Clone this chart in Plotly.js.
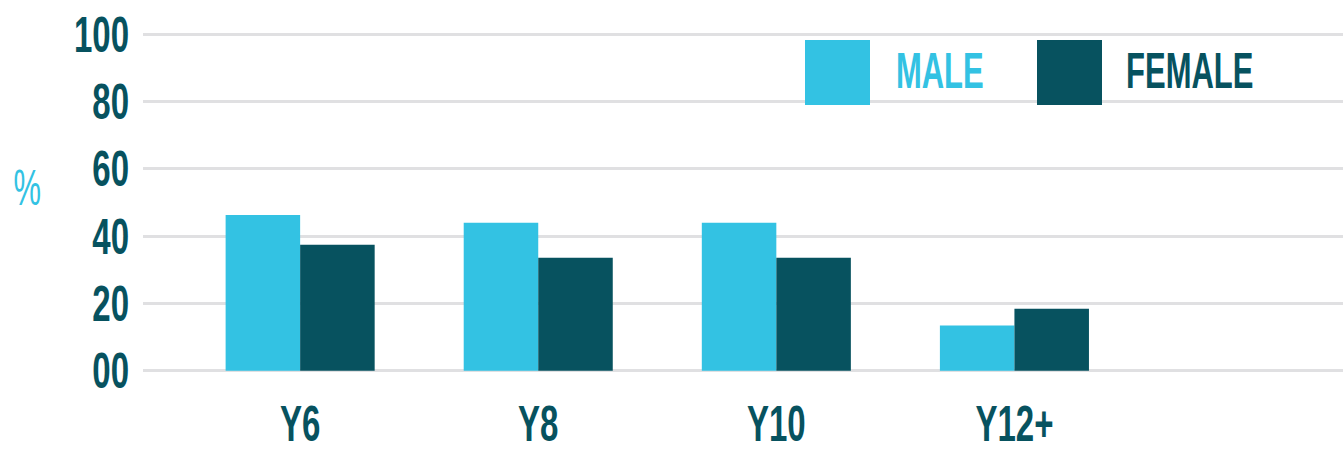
<!DOCTYPE html>
<html>
<head>
<meta charset="utf-8">
<script src="https://cdn.plot.ly/plotly-3.0.1.min.js"></script>
<style>
html,body{margin:0;padding:0;background:#fff;}
#chart{width:1343px;height:457px;}
</style>
</head>
<body>
<div id="chart"></div>
<script>
const categories = ["Y6", "Y8", "Y10", "Y12+"];
const seriesNames = ["MALE", "FEMALE"];
const maleValues = [46.3, 44.0, 44.0, 13.4];
const femaleValues = [37.4, 33.6, 33.6, 18.4];
const yTickValues = [0, 20, 40, 60, 80, 100];
const yTickLabels = ["00", "20", "40", "60", "80", "100"];

const LIGHT = "#33C2E3";
const DARK = "#07525F";
const FONT = "'Liberation Sans', 'DejaVu Sans', sans-serif";

const traces = [
  {type: "bar", name: seriesNames[0], x: categories, y: maleValues, marker: {color: LIGHT}, showlegend: false, hoverinfo: "x+y"},
  {type: "bar", name: seriesNames[1], x: categories, y: femaleValues, marker: {color: DARK}, showlegend: false, hoverinfo: "x+y"}
];

const PL = 143, PW = 1200, PT = 31, PH = 343.4;
const px = v => (v - PL) / PW;
const py = v => (PT + PH - v) / PH;

const layout = {
  width: 1343, height: 457,
  margin: {l: PL, r: 0, t: PT, b: 457 - PT - PH},
  paper_bgcolor: "#fff", plot_bgcolor: "#fff",
  barmode: "group", bargap: 0.374, bargroupgap: 0,
  font: {family: FONT, color: DARK},
  xaxis: {
    type: "category", range: [-0.66, 4.38],
    showgrid: false, zeroline: false, showline: false, ticks: "",
    tickfont: {family: FONT, size: 50, color: DARK, weight: "bold"},
    ticklabelstandoff: 16
  },
  yaxis: {
    range: [-1, 101], tickvals: yTickValues, ticktext: yTickLabels,
    showgrid: true, gridcolor: "#E0E0E2", gridwidth: 3,
    zeroline: false, showline: false, ticks: "",
    tickfont: {family: FONT, size: 50, color: DARK, weight: "bold"},
    ticklabelstandoff: 13
  },
  shapes: [
    {type: "rect", xref: "paper", yref: "paper", x0: px(805), x1: px(870), y0: py(105), y1: py(40), fillcolor: LIGHT, line: {width: 0}},
    {type: "rect", xref: "paper", yref: "paper", x0: px(1037), x1: px(1102), y0: py(105), y1: py(40), fillcolor: DARK, line: {width: 0}}
  ],
  annotations: [
    {xref: "paper", yref: "paper", x: px(940), y: py(71), xanchor: "center", yanchor: "middle", text: seriesNames[0], showarrow: false,
     font: {family: FONT, size: 50, color: LIGHT, weight: "bold"}},
    {xref: "paper", yref: "paper", x: px(1190), y: py(71), xanchor: "center", yanchor: "middle", text: seriesNames[1], showarrow: false,
     font: {family: FONT, size: 50, color: DARK, weight: "bold"}},
    {xref: "paper", yref: "paper", x: px(27), y: py(188), xanchor: "center", yanchor: "middle", text: "%", showarrow: false,
     font: {family: FONT, size: 50, color: LIGHT}}
  ]
};

// narrow the text horizontally around its own anchor to mimic a condensed display face
function condense(sel, s) {
  document.querySelectorAll(sel).forEach(t => {
    const x = parseFloat(t.getAttribute("x") || 0);
    const y = parseFloat(t.getAttribute("y") || 0);
    const prev = t.getAttribute("transform") || "";
    t.setAttribute("transform", prev + ` translate(${x},${y}) scale(${s},1) translate(${-x},${-y})`);
  });
}

Plotly.newPlot("chart", traces, layout, {displayModeBar: false, staticPlot: true}).then(() => {
  condense("#chart .xtick text", 0.66);
  condense("#chart .ytick text", 0.66);
  condense("#chart .annotation-text", 0.62);
});
</script>
</body>
</html>
